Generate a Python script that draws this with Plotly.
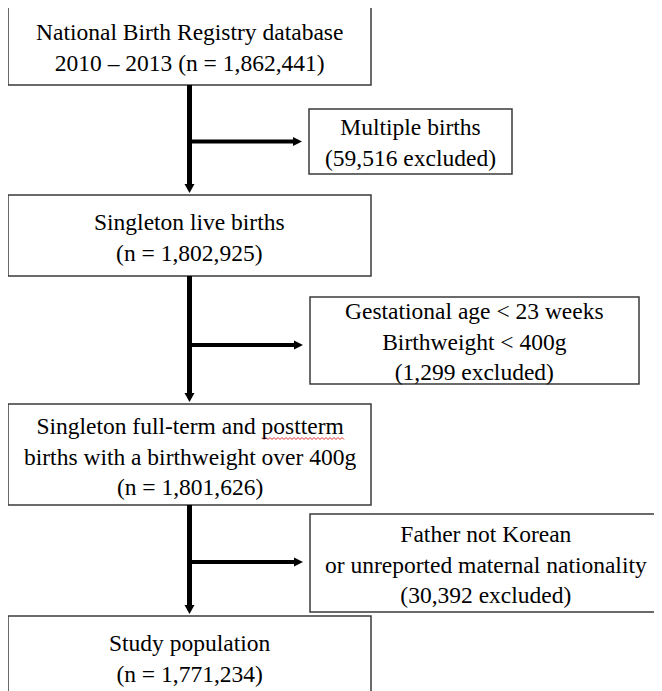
import plotly.graph_objects as go

# ---- data ----
stage_labels = [
    "National Birth Registry database<br>2010 – 2013",
    "Singleton live births",
    "Singleton full-term and postterm<br>births with a birthweight over 400g",
    "Study population",
]
stage_counts = [1862441, 1802925, 1801626, 1771234]
excluded_labels = [
    "Multiple births",
    "Gestational age < 23 weeks<br>Birthweight < 400g",
    "Father not Korean<br>or unreported maternal nationality",
]
excluded_counts = [59516, 1299, 30392]

# ---- layout geometry (pixels in the final page) ----
W, H = 662, 691
OFF = 8  # default page body margin
main_boxes = [(8, 5, 371, 85), (8, 195, 371, 276), (8, 404, 371, 505), (8, 616, 371, 705)]
side_boxes = [(309, 109, 512, 174), (310, 297, 639, 384), (310, 514, 661, 612)]
branch_y = [141.5, 345, 562]
main_x = 189.5

FONT = dict(family="Liberation Serif", size=23.5, color="black")
BORDER = dict(color="#3a3a3a", width=1.5)

stage_text = []
for i, (lab, c) in enumerate(zip(stage_labels, stage_counts)):
    if i == 0:
        stage_text.append(f"{lab} (n = {c:,})")
    else:
        stage_text.append(f"{lab}<br>(n = {c:,})")
excl_text = [f"{lab}<br>({c:,} excluded)" for lab, c in zip(excluded_labels, excluded_counts)]

shapes = []
annotations = []

def add_box(b, text, text_y):
    x0, y0, x1, y1 = b
    shapes.append(dict(type="rect", xref="x", yref="y", x0=x0, y0=y0, x1=x1, y1=y1,
                       line=BORDER, fillcolor="white", layer="above"))
    annotations.append(dict(x=(x0 + x1) / 2, y=text_y,
                            xref="x", yref="y", text=text, showarrow=False,
                            font=FONT, align="center", xanchor="center", yanchor="middle"))

for i, b in enumerate(main_boxes):
    ty = 658 if i == 3 else (b[1] + b[3]) / 2 + 2
    add_box(b, stage_text[i], ty)
for i, b in enumerate(side_boxes):
    add_box(b, excl_text[i], (b[1] + b[3]) / 2 + 1)

# spell-check squiggle under "postterm"
sq_x0, sq_x1, sq_y = 262, 345, 438.5
pts = []
x = sq_x0
k = 0
while x <= sq_x1:
    pts.append(f"{x},{sq_y + (1 if k % 2 else -1)}")
    x += 2
    k += 1
shapes.append(dict(type="path", xref="x", yref="y", path="M " + " L ".join(pts),
                   line=dict(color="#e03030", width=1), layer="above"))

# connectors with arrowheads
for i in range(3):
    top = main_boxes[i][3]
    tip = main_boxes[i + 1][1] - 2
    shapes.append(dict(type="line", xref="x", yref="y", x0=main_x, y0=top, x1=main_x, y1=tip - 6,
                       line=dict(color="black", width=5)))
    shapes.append(dict(type="path", xref="x", yref="y",
                       path=f"M {main_x-5},{tip-9} L {main_x+5},{tip-9} L {main_x},{tip} Z",
                       fillcolor="black", line=dict(color="black", width=0)))
    by = branch_y[i]
    htip = side_boxes[i][0] - 7
    shapes.append(dict(type="line", xref="x", yref="y", x0=main_x, y0=by, x1=htip - 6, y1=by,
                       line=dict(color="black", width=4)))
    shapes.append(dict(type="path", xref="x", yref="y",
                       path=f"M {htip-9},{by-4.5} L {htip-9},{by+4.5} L {htip},{by} Z",
                       fillcolor="black", line=dict(color="black", width=0)))

fig = go.Figure()
fig.update_layout(
    width=W - OFF, height=H - OFF,
    margin=dict(l=0, r=0, t=0, b=0),
    paper_bgcolor="white", plot_bgcolor="white",
    xaxis=dict(range=[OFF, W], visible=False, fixedrange=True),
    yaxis=dict(range=[H, OFF], visible=False, fixedrange=True),
    shapes=shapes, annotations=annotations,
    showlegend=False,
)
fig.write_html("out.html")
